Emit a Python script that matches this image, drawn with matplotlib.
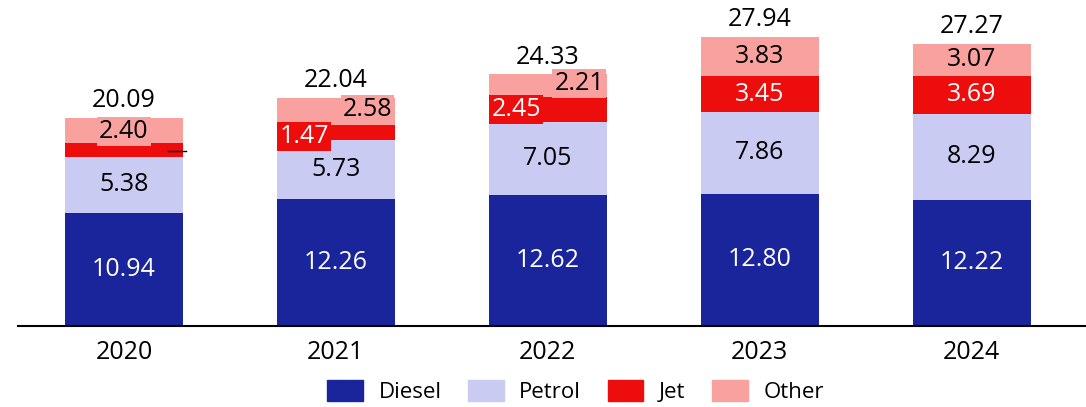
import matplotlib.pyplot as plt
import numpy as np
from matplotlib.patches import Patch

years = ["2020", "2021", "2022", "2023", "2024"]
diesel = [10.94, 12.26, 12.62, 12.80, 12.22]
petrol = [5.38, 5.73, 7.05, 7.86, 8.29]
jet = [1.37, 1.47, 2.45, 3.45, 3.69]
other = [2.40, 2.58, 2.21, 3.83, 3.07]
totals = [20.09, 22.04, 24.33, 27.94, 27.27]

colors = {"Diesel": "#1a259b", "Petrol": "#c9cbf3", "Jet": "#ee0d0d", "Other": "#f9a19e"}

plt.rcParams["font.family"] = ["Open Sans", "DejaVu Sans"]

fig = plt.figure(figsize=(10.86, 4.07), dpi=100)
ax = fig.add_axes([0.0166, 0.199, 0.9834, 0.801])

x = np.arange(len(years))
w = 0.557
bottom = np.zeros(len(years))
for name, vals in [("Diesel", diesel), ("Petrol", petrol), ("Jet", jet), ("Other", other)]:
    ax.bar(x, vals, w, bottom=bottom, color=colors[name], edgecolor="none")
    bottom += np.array(vals)

fs = 18
d = np.array(diesel)
p = np.array(petrol)
j = np.array(jet)
o = np.array(other)
box = "square,pad=0.08"
for i in range(len(years)):
    ax.text(x[i], d[i] / 2, f"{d[i]:.2f}", ha="center", va="center", color="white", fontsize=fs)
    ax.text(x[i], d[i] + p[i] / 2, f"{p[i]:.2f}", ha="center", va="center", color="black", fontsize=fs)
    jm = d[i] + p[i] + j[i] / 2
    om = d[i] + p[i] + j[i] + o[i] / 2
    if i == 0:
        # jet label too small - short leader only
        ax.plot([x[i] + w / 2 - 0.07, x[i] + w / 2 + 0.015], [jm - 0.1, jm - 0.1], color="black", lw=1)
        ax.text(x[i], om - 0.1, f"{o[i]:.2f}", ha="center", va="center", color="black", fontsize=fs,
                bbox=dict(boxstyle=box, fc=colors["Other"], ec="none"))
    elif i in (1, 2):
        ax.text(x[i] - w / 2 + 0.012, jm - (0.45 if i == 1 else 0.0), f"{j[i]:.2f}", ha="left", va="center",
                color="white", fontsize=fs,
                bbox=dict(boxstyle=box, fc=colors["Jet"], ec="none"))
        ax.text(x[i] + w / 2 - 0.012, om + 0.2, f"{o[i]:.2f}", ha="right", va="center", color="black",
                fontsize=fs, bbox=dict(boxstyle=box, fc=colors["Other"], ec="none"))
    else:
        ax.text(x[i], jm, f"{j[i]:.2f}", ha="center", va="center", color="white", fontsize=fs)
        ax.text(x[i], om, f"{o[i]:.2f}", ha="center", va="center", color="black", fontsize=fs)
    ax.text(x[i], totals[i] + 0.45, f"{totals[i]:.2f}", ha="center", va="bottom", color="black", fontsize=fs)

ax.set_xlim(-0.5, 4.54)
ax.set_ylim(0, 31.5)
ax.set_xticks(x)
ax.set_xticklabels(years, fontsize=fs)
ax.tick_params(axis="x", length=0, pad=10)
ax.set_yticks([])
for s in ["top", "right", "left"]:
    ax.spines[s].set_visible(False)
ax.spines["bottom"].set_linewidth(1.5)

handles = [Patch(color=c, label=n) for n, c in colors.items()]
fig.legend(handles=handles, loc="lower center", bbox_to_anchor=(0.53, -0.04), ncol=4, frameon=False,
           fontsize=16, handlelength=1.6, handleheight=1.1, columnspacing=1.2, handletextpad=0.7)

fig.savefig("out.png", dpi=100)
